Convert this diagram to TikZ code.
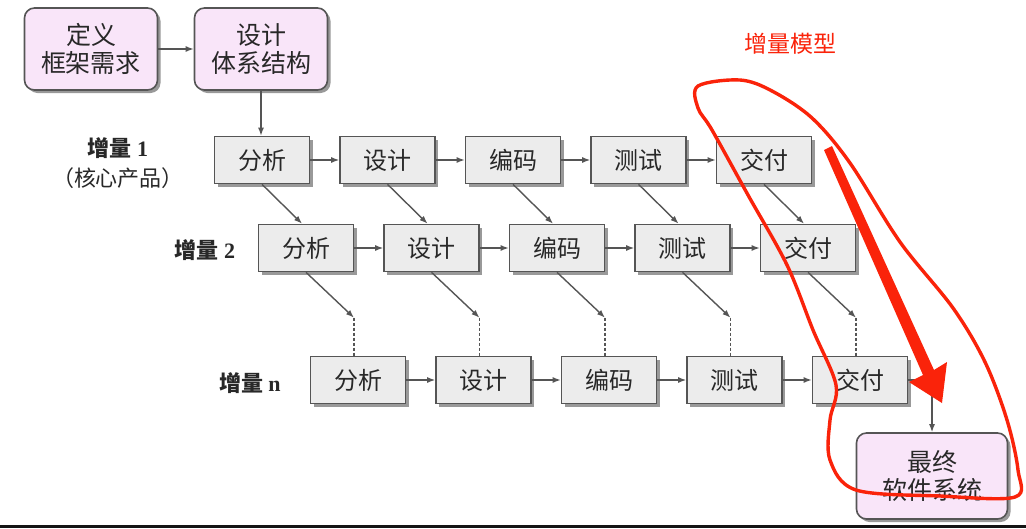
\documentclass[tikz,border=0pt]{standalone}
\usepackage{fontspec}
\setmainfont{Liberation Serif}
\newfontfamily\cjk{Noto Sans CJK SC}
\usetikzlibrary{arrows.meta,positioning,shadows,calc}
\definecolor{boxgray}{RGB}{236,236,236}
\definecolor{edgegray}{RGB}{85,85,85}
\definecolor{textgray}{RGB}{40,40,40}
\definecolor{boxpink}{RGB}{249,229,249}
\definecolor{inkred}{RGB}{250,35,10}

\begin{document}
\begin{tikzpicture}[x=1pt,y=-1pt,
  block/.style={draw=edgegray,line width=1.6pt,fill=boxgray,minimum width=95pt,minimum height=47pt,inner sep=0pt,text=textgray,font=\cjk\fontsize{24}{26}\selectfont,drop shadow={shadow xshift=3pt,shadow yshift=-3pt,fill=black!40,opacity=1}},
  mblock/.style={block,rounded corners=10pt,fill=boxpink,minimum width=133pt,minimum height=82pt,align=center,font=\cjk\fontsize{25}{28}\selectfont},
  lab/.style={align=center,text=textgray,font=\cjk\bfseries\fontsize{22}{30}\selectfont},
  flow/.style={-{Latex[length=8pt,width=6pt]},line width=1.4pt,edgegray}]
  \useasboundingbox (0,0) rectangle (1026,528);
  \fill[white] (0,0) rectangle (1026,528);
  % Framework and architecture
  \node[mblock] (req) at (91,49) {定义\\框架需求};
  \node[mblock] (arch) at (261,49) {设计\\体系结构};
  % Increment rows
  \foreach \r/\y/\x in {1/160/262,2/248/306,n/380/358}{
    \foreach \s/\t [count=\k from 0] in {ana/分析,des/设计,cod/编码,tst/测试,del/交付}
      \node[block] (\s\r) at ({\x+125.5*\k},\y) {\t};
  }
  % Row labels
  \node[lab] (lab1) at (118,163) {增量 {\rmfamily\bfseries 1}\\{\mdseries（核心产品）}};
  \node[lab] (lab2) at (205,250) {增量 {\rmfamily\bfseries 2}};
  \node[lab] (labn) at (250,383) {增量 {\rmfamily\bfseries n}};
  % Final system
  \node[mblock,minimum width=151pt,minimum height=86pt] (final) at (932,476) {最终\\软件系统};
  % Arrows
  \draw[flow] (req) -- (arch);
  \draw[flow] (arch.south) -- (arch.south |- ana1.north);
  \foreach \r in {1,2,n}{
    \foreach \p/\q in {ana/des,des/cod,cod/tst,tst/del}
      \draw[flow] (\p\r) -- (\q\r);
  }
  \foreach \p in {ana,des,cod,tst,del}{
    \draw[flow] (\p1.south) -- ([xshift=-4pt]\p2.north);
    \coordinate (gap\p) at ([xshift=-4pt,yshift=38pt]\p n.north);
    \draw[flow] (\p2.south) -- (gap\p);
    \draw[edgegray,line width=1.4pt,dash pattern=on 3pt off 2pt] (gap\p) -- ([xshift=-4pt]\p n.north);
  }
  \draw[flow] (deln.east) -| (final.north);
  % Red annotation
  \node[text=inkred,font=\cjk\fontsize{23}{26}\selectfont] (title) at (790,44) {增量模型};
  \draw[inkred,line width=3.4pt] plot[smooth cycle,tension=0.55] coordinates {
    (698,86) (740,80) (772,91) (812,118) (850,163) (900,242) (953,308) (985,362)
    (1007,420) (1018,470) (1015,497) (940,496) (856,490) (830,460) (830,420)
    (836,385) (813,330) (787,265) (748,195) (712,130) (698,108)};
  \fill[inkred,line join=round] (824,150) -- (923,375) -- (909,382) -- (942,403)
    -- (947,362) -- (934,370) -- (832,146) -- cycle;
  % Bottom edge
  \fill[black!92] (0,525) rectangle (1026,528);
\end{tikzpicture}
\end{document}
